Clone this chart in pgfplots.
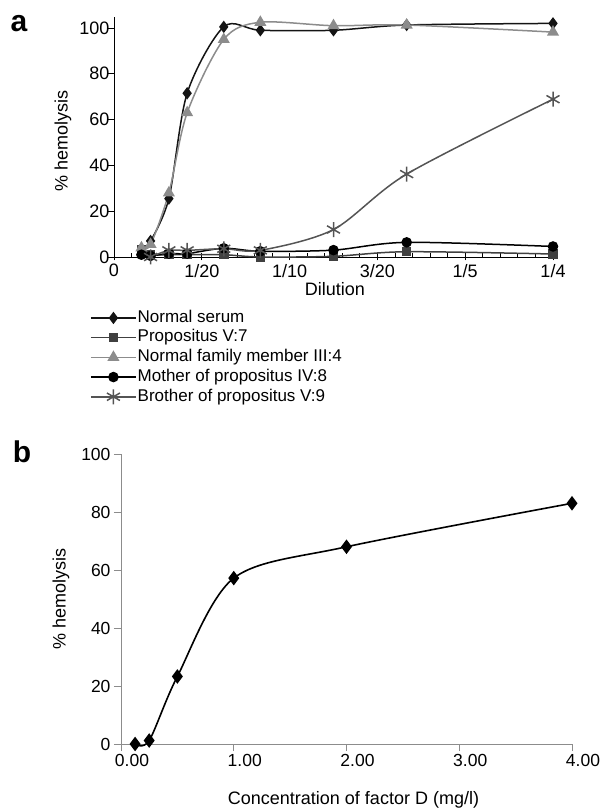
\documentclass[border=0pt]{standalone}
\usepackage{fontspec}
\setmainfont{Liberation Sans}
\usepackage{pgfplots}
\pgfplotsset{compat=1.18}
\definecolor{cSerum}{gray}{0.08}
\definecolor{cPropos}{gray}{0.25}
\definecolor{cFamily}{gray}{0.55}
\definecolor{cMother}{gray}{0.0}
\definecolor{cBrother}{gray}{0.33}
\definecolor{cAxis}{gray}{0.55}
\begin{document}
\begin{tikzpicture}
\useasboundingbox (0pt,0pt) rectangle (604pt,809pt);
\node[font=\fontsize{30}{30}\selectfont\bfseries] at (19pt,785pt) {a};
\node[font=\fontsize{30}{30}\selectfont\bfseries] at (22pt,357pt) {b};

% panel a
\begin{axis}[
  at={(114pt,552pt)}, anchor=south west,
  scale only axis, width=439pt, height=240pt,
  xmin=0, xmax=0.25, ymin=0, ymax=104.8,
  axis x line=bottom, axis y line=left,
  axis line style={-, line width=0.8pt},
  xtick={0,0.05,0.1,0.15,0.2,0.25},
  xticklabels={0,1/20,1/10,3/20,1/5,1/4},
  minor x tick num=4,
  ytick={0,20,40,60,80,100},
  xtick align=center, ytick align=outside,
  major tick length=7pt, minor tick length=4pt,
  tick style={line width=0.8pt, black},
  minor x tick style={yshift=2pt},
  ticklabel style={font=\fontsize{18}{18}\selectfont},
  yticklabel style={xshift=6pt},
  /pgf/number format/assume math mode=true,
  xlabel={Dilution}, ylabel={\% hemolysis},
  every axis x label/.style={at={(axis description cs:0.503,-0.1625)}, anchor=base, font=\fontsize{18}{18}\selectfont},
  every axis y label/.style={at={(axis description cs:-0.116,0.483)}, rotate=90, anchor=center, font=\fontsize{18}{18}\selectfont},
  clip=false,
  legend style={at={(axis description cs:-0.0547,-0.2167)}, anchor=north west,
    draw=none, fill=none, inner sep=0pt, row sep=2.2pt,
    font=\fontsize{17}{17}\selectfont,
    nodes={inner sep=1pt, text height=12pt, text depth=3.5pt}},
  legend cell align=left,
  legend image code/.code={\draw[mark repeat=2,mark phase=2,#1] plot coordinates {(0pt,0pt) (22.5pt,0pt) (45pt,0pt)};},
]
\addplot[cSerum, line width=1.5pt, smooth, mark=diamond*, mark size=5pt, mark options={solid, fill=cSerum, draw=cSerum}] coordinates {
  (0.020833,7)(0.03125,25.5)(0.041667,71.5)(0.0625,100.5)(0.083333,99)(0.125,99)(0.166667,101.3)(0.25,102)
};
\addlegendentry{Normal serum}
\addplot[cPropos, line width=1.5pt, smooth, mark=square*, mark size=4pt, mark options={solid, fill=cPropos, draw=cPropos}] coordinates {
  (0.015625,3)(0.020833,1)(0.03125,1)(0.041667,1)(0.0625,1)(0.083333,0)(0.125,0.3)(0.166667,2.3)(0.25,1.3)
};
\addlegendentry{Propositus V:7}
\addplot[cFamily, line width=1.5pt, smooth, mark=triangle*, mark size=5.5pt, mark options={solid, fill=cFamily, draw=cFamily}] coordinates {
  (0.015625,4)(0.020833,5.5)(0.03125,28)(0.041667,63)(0.0625,95)(0.083333,102.5)(0.125,101)(0.166667,101.3)(0.25,98.2)
};
\addlegendentry{Normal family member III:4}
\addplot[cMother, line width=1.5pt, smooth, mark=*, mark size=4.5pt, mark options={solid, fill=cMother, draw=cMother}] coordinates {
  (0.015625,1)(0.020833,0.5)(0.03125,1.5)(0.041667,1.5)(0.0625,3.8)(0.083333,2.5)(0.125,3)(0.166667,6.4)(0.25,4.6)
};
\addlegendentry{Mother of propositus IV:8}
\addplot[cBrother, line width=1.5pt, smooth, mark=asterisk, mark size=7.5pt, mark options={solid, line width=1.5pt, draw=cBrother}] coordinates {
  (0.020833,0)(0.03125,2.9)(0.041667,2.9)(0.0625,3.6)(0.083333,2.9)(0.125,12)(0.166667,36.2)(0.25,68.9)
};
\addlegendentry{Brother of propositus V:9}
\end{axis}

% panel b
\begin{axis}[
  at={(121pt,65pt)}, anchor=south west,
  scale only axis, width=451pt, height=290pt,
  xmin=0, xmax=4, ymin=0, ymax=100,
  axis x line=bottom, axis y line=left,
  axis line style={-, line width=0.8pt, cAxis},
  xtick={0,1,2,3,4},
  xticklabels={0.00,1.00,2.00,3.00,4.00},
  ytick={0,20,40,60,80,100},
  tick align=outside, major tick length=7pt,
  tick style={line width=0.8pt, cAxis},
  ticklabel style={font=\fontsize{17.5}{17.5}\selectfont},
  xticklabel style={xshift=11pt},
  /pgf/number format/assume math mode=true,
  xlabel={Concentration of factor D (mg/l)}, ylabel={\% hemolysis},
  every axis x label/.style={at={(axis description cs:0.5155,-0.210)}, anchor=base, font=\fontsize{18}{18}\selectfont},
  every axis y label/.style={at={(axis description cs:-0.133,0.5)}, rotate=90, anchor=center, font=\fontsize{18}{18}\selectfont},
  clip=false,
]
\addplot[black, line width=1.6pt, smooth, mark=diamond*, mark size=6pt, mark options={solid, fill=black}] coordinates {
  (0.125,0)(0.25,1.2)(0.5,23.3)(1,57.2)(2,68)(4,83)
};
\end{axis}
\end{tikzpicture}
\end{document}
